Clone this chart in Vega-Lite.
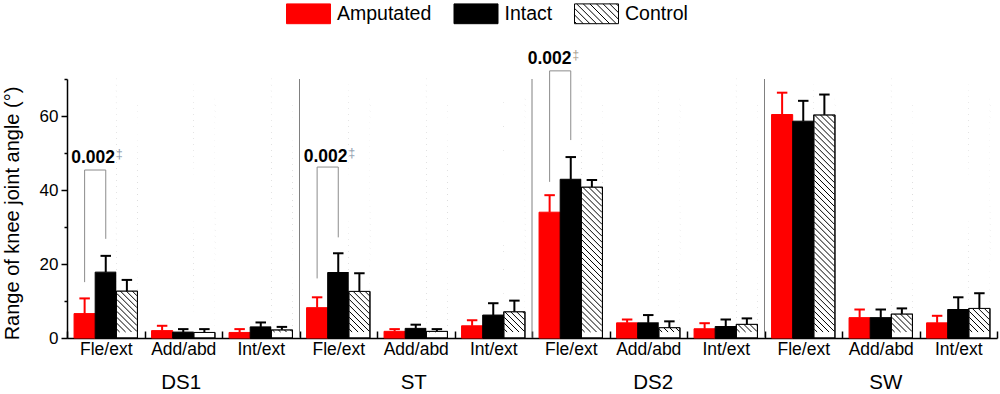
{
  "$schema": "https://vega.github.io/schema/vega-lite/v6.json",
  "width": 930,
  "height": 259,
  "autosize": {"type": "none"},
  "padding": {"left": 67, "top": 79, "right": 3, "bottom": 56},
  "config": {
    "view": {"stroke": null},
    "font": "Liberation Sans",
    "axis": {"labelFont": "Liberation Sans", "titleFont": "Liberation Sans", "grid": false},
    "legend": {"labelFont": "Liberation Sans"}
  },
  "datasets": {
    "bars": [
      {"cat": "DS1|Fle/ext", "series": "Amputated", "value": 6.6, "hi": 10.7},
      {"cat": "DS1|Fle/ext", "series": "Intact", "value": 17.8, "hi": 22.2},
      {"cat": "DS1|Fle/ext", "series": "Control", "value": 12.7, "hi": 15.7},
      {"cat": "DS1|Add/abd", "series": "Amputated", "value": 2.0, "hi": 3.3},
      {"cat": "DS1|Add/abd", "series": "Intact", "value": 1.6, "hi": 2.4},
      {"cat": "DS1|Add/abd", "series": "Control", "value": 1.5, "hi": 2.4},
      {"cat": "DS1|Int/ext", "series": "Amputated", "value": 1.5, "hi": 2.4},
      {"cat": "DS1|Int/ext", "series": "Intact", "value": 3.0, "hi": 4.2},
      {"cat": "DS1|Int/ext", "series": "Control", "value": 2.2, "hi": 3.0},
      {"cat": "ST|Fle/ext", "series": "Amputated", "value": 8.2, "hi": 11.0},
      {"cat": "ST|Fle/ext", "series": "Intact", "value": 17.7, "hi": 22.9},
      {"cat": "ST|Fle/ext", "series": "Control", "value": 12.6, "hi": 17.5},
      {"cat": "ST|Add/abd", "series": "Amputated", "value": 1.8, "hi": 2.4},
      {"cat": "ST|Add/abd", "series": "Intact", "value": 2.6, "hi": 3.6},
      {"cat": "ST|Add/abd", "series": "Control", "value": 1.8, "hi": 2.4},
      {"cat": "ST|Int/ext", "series": "Amputated", "value": 3.3, "hi": 4.8},
      {"cat": "ST|Int/ext", "series": "Intact", "value": 6.2, "hi": 9.4},
      {"cat": "ST|Int/ext", "series": "Control", "value": 7.1, "hi": 10.1},
      {"cat": "DS2|Fle/ext", "series": "Amputated", "value": 34.0, "hi": 38.6},
      {"cat": "DS2|Fle/ext", "series": "Intact", "value": 42.9, "hi": 48.9},
      {"cat": "DS2|Fle/ext", "series": "Control", "value": 40.8, "hi": 42.7},
      {"cat": "DS2|Add/abd", "series": "Amputated", "value": 4.1, "hi": 5.0},
      {"cat": "DS2|Add/abd", "series": "Intact", "value": 4.1, "hi": 6.2},
      {"cat": "DS2|Add/abd", "series": "Control", "value": 2.8, "hi": 4.5},
      {"cat": "DS2|Int/ext", "series": "Amputated", "value": 2.5, "hi": 4.0},
      {"cat": "DS2|Int/ext", "series": "Intact", "value": 3.1, "hi": 5.0},
      {"cat": "DS2|Int/ext", "series": "Control", "value": 3.7, "hi": 5.3},
      {"cat": "SW|Fle/ext", "series": "Amputated", "value": 60.4, "hi": 66.3},
      {"cat": "SW|Fle/ext", "series": "Intact", "value": 58.6, "hi": 64.1},
      {"cat": "SW|Fle/ext", "series": "Control", "value": 60.3, "hi": 65.8},
      {"cat": "SW|Add/abd", "series": "Amputated", "value": 5.5, "hi": 7.7},
      {"cat": "SW|Add/abd", "series": "Intact", "value": 5.5, "hi": 7.7},
      {"cat": "SW|Add/abd", "series": "Control", "value": 6.5, "hi": 8.0},
      {"cat": "SW|Int/ext", "series": "Amputated", "value": 4.1, "hi": 6.0},
      {"cat": "SW|Int/ext", "series": "Intact", "value": 7.7, "hi": 11.0},
      {"cat": "SW|Int/ext", "series": "Control", "value": 8.0, "hi": 12.1}
    ],
    "brackets": [
      {"id": "DS1", "cat": "DS1|Fle/ext", "series": "Amputated", "y": 15.1, "o": 1},
      {"id": "DS1", "cat": "DS1|Fle/ext", "series": "Amputated", "y": 45.4, "o": 2},
      {"id": "DS1", "cat": "DS1|Fle/ext", "series": "Intact", "y": 45.4, "o": 3},
      {"id": "DS1", "cat": "DS1|Fle/ext", "series": "Intact", "y": 26.8, "o": 4},
      {"id": "ST", "cat": "ST|Fle/ext", "series": "Amputated", "y": 16.1, "o": 1},
      {"id": "ST", "cat": "ST|Fle/ext", "series": "Amputated", "y": 46.2, "o": 2},
      {"id": "ST", "cat": "ST|Fle/ext", "series": "Intact", "y": 46.2, "o": 3},
      {"id": "ST", "cat": "ST|Fle/ext", "series": "Intact", "y": 27.2, "o": 4},
      {"id": "DS2", "cat": "DS2|Fle/ext", "series": "Amputated", "y": 42.2, "o": 1},
      {"id": "DS2", "cat": "DS2|Fle/ext", "series": "Amputated", "y": 72.2, "o": 2},
      {"id": "DS2", "cat": "DS2|Fle/ext", "series": "Intact", "y": 72.2, "o": 3},
      {"id": "DS2", "cat": "DS2|Fle/ext", "series": "Intact", "y": 53.5, "o": 4}
    ],
    "annot": [
      {"cat": "DS1|Fle/ext", "series": "Amputated", "y": 48.6, "p": "0.002", "s": "‡"},
      {"cat": "ST|Fle/ext", "series": "Amputated", "y": 48.8, "p": "0.002", "s": "‡"},
      {"cat": "DS2|Fle/ext", "series": "Amputated", "y": 75.4, "p": "0.002", "s": "‡"}
    ],
    "seps": [
      {"cat": "ST|Fle/ext"},
      {"cat": "DS2|Fle/ext"},
      {"cat": "SW|Fle/ext"}
    ],
    "groups": [
      {"cat": "DS1|Add/abd", "group": "DS1"},
      {"cat": "ST|Add/abd", "group": "ST"},
      {"cat": "DS2|Add/abd", "group": "DS2"},
      {"cat": "SW|Add/abd", "group": "SW"}
    ]
  },
  "resolve": {"axis": {"y": "independent"}},
  "layer": [
    {
      "data": {"name": "bars"},
      "mark": {"type": "bar", "strokeWidth": 1},
      "encoding": {
        "x": {"field": "cat", "type": "nominal", "sort": null,
          "scale": {"domain": ["DS1|Fle/ext","DS1|Add/abd","DS1|Int/ext","ST|Fle/ext","ST|Add/abd","ST|Int/ext","DS2|Fle/ext","DS2|Add/abd","DS2|Int/ext","SW|Fle/ext","SW|Add/abd","SW|Int/ext"], "paddingInner": 0, "paddingOuter": 0},
          "axis": {"title": null, "labelExpr": "split(datum.label, '|')[1]", "labelAngle": 0, "labelFontSize": 17.5, "labelColor": "#000000", "labelPadding": 9, "tickBand": "extent", "tickSize": -7, "tickWidth": 1.5, "tickColor": "#000000", "domainColor": "#000000", "domainWidth": 1.5, "labelOverlap": false}},
        "xOffset": {"field": "series", "type": "nominal", "scale": {"domain": ["Amputated", "Intact", "Control"], "paddingInner": 0, "paddingOuter": 0.334}},
        "y": {"field": "value", "type": "quantitative", "scale": {"domain": [0, 70], "nice": false},
          "axis": {"title": "Range of knee joint angle (°)", "values": [0, 20, 40, 60], "tickSize": 6, "tickWidth": 1.5, "tickColor": "#000000", "domainColor": "#000000", "domainWidth": 1.5, "labelFontSize": 17, "labelColor": "#000000", "labelPadding": 3, "titleFontSize": 20, "titleFontWeight": "normal", "titleColor": "#000000", "titlePadding": 17, "titleY": 134, "orient": "left"}},
        "fill": {"field": "series", "type": "nominal",
          "scale": {"domain": ["Amputated", "Intact", "Control"], "range": ["#ff0000", "#000000", "#ffffff"]},
          "legend": {"title": null, "orient": "none", "legendX": 219, "legendY": -88, "direction": "horizontal", "symbolSize": 1936, "symbolStrokeWidth": 1, "labelFontSize": 19.5, "labelColor": "#000000", "labelOffset": 6, "columnPadding": 19.5, "padding": 0}},
        "stroke": {"field": "series", "type": "nominal",
          "scale": {"domain": ["Amputated", "Intact", "Control"], "range": ["#ff0000", "#000000", "#000000"]},
          "legend": {"title": null, "orient": "none", "legendX": 219, "legendY": -88, "direction": "horizontal", "symbolSize": 1936, "symbolStrokeWidth": 1, "labelFontSize": 19.5, "labelColor": "#000000", "labelOffset": 6, "columnPadding": 19.5, "padding": 0}}
      }
    },
    {
      "data": {"name": "bars"},
      "transform": [{"filter": "datum.value < 0"}],
      "mark": {"type": "point", "opacity": 1, "filled": true},
      "encoding": {
        "x": {"field": "cat", "type": "nominal", "sort": null},
        "y": {"field": "value", "type": "quantitative", "axis": null},
        "shape": {"field": "series", "type": "nominal",
          "scale": {"domain": ["Amputated", "Intact", "Control"], "range": ["M-1,-0.45H1V0.45H-1Z", "M-1,-0.45H1V0.45H-1Z", "M-1,-0.45H1V0.45H-1ZM0.9,-0.45L1,-0.35M0.6,-0.45L1,-0.05M0.3,-0.45L1,0.25M0,-0.45L0.9,0.45M-0.3,-0.45L0.6,0.45M-0.6,-0.45L0.3,0.45M-0.9,-0.45L0,0.45M-1,-0.25L-0.3,0.45M-1,0.05L-0.6,0.45M-1,0.35L-0.9,0.45"]},
          "legend": {"title": null, "orient": "none", "legendX": 219, "legendY": -88, "direction": "horizontal", "symbolSize": 1936, "symbolStrokeWidth": 1, "labelFontSize": 19.5, "labelColor": "#000000", "labelOffset": 6, "columnPadding": 19.5, "padding": 0}}
      }
    },
    {
      "data": {"name": "bars"},
      "transform": [{"filter": "datum.series === 'Control'"}],
      "mark": {"type": "point", "shape": "M-0.078,-1l0.156,0.156m-0.156,-0.11l0.156,0.156m-0.156,-0.11l0.156,0.156m-0.156,-0.11l0.156,0.156m-0.156,-0.11l0.156,0.156m-0.156,-0.11l0.156,0.156m-0.156,-0.11l0.156,0.156m-0.156,-0.11l0.156,0.156m-0.156,-0.11l0.156,0.156m-0.156,-0.11l0.156,0.156m-0.156,-0.11l0.156,0.156m-0.156,-0.11l0.156,0.156m-0.156,-0.11l0.156,0.156m-0.156,-0.11l0.156,0.156m-0.156,-0.11l0.156,0.156m-0.156,-0.11l0.156,0.156m-0.156,-0.11l0.156,0.156m-0.156,-0.11l0.156,0.156m-0.156,-0.11l0.156,0.156m-0.156,-0.11l0.156,0.156m-0.156,-0.11l0.156,0.156m-0.156,-0.11l0.156,0.156m-0.156,-0.11l0.156,0.156m-0.156,-0.11l0.156,0.156m-0.156,-0.11l0.156,0.156m-0.156,-0.11l0.156,0.156m-0.156,-0.11l0.156,0.156m-0.156,-0.11l0.156,0.156m-0.156,-0.11l0.156,0.156m-0.156,-0.11l0.156,0.156m-0.156,-0.11l0.156,0.156m-0.156,-0.11l0.156,0.156m-0.156,-0.11l0.156,0.156m-0.156,-0.11l0.156,0.156m-0.156,-0.11l0.156,0.156m-0.156,-0.11l0.156,0.156m-0.156,-0.11l0.156,0.156m-0.156,-0.11l0.156,0.156m-0.156,-0.11l0.156,0.156m-0.156,-0.11l0.156,0.156m-0.156,-0.11l0.114,0.114m-0.114,-0.068l0.068,0.068m-0.068,-0.022l0.022,0.022", "size": 67081, "filled": false, "stroke": "#000000", "strokeWidth": 1, "opacity": 1},
      "encoding": {
        "x": {"field": "cat", "type": "nominal", "sort": null},
        "xOffset": {"field": "series", "type": "nominal"},
        "y": {"datum": 35, "type": "quantitative", "axis": null}
      }
    },
    {
      "data": {"name": "bars"},
      "transform": [{"filter": "datum.series === 'Control'"}],
      "mark": {"type": "bar", "fill": "#ffffff", "strokeOpacity": 0},
      "encoding": {
        "x": {"field": "cat", "type": "nominal", "sort": null},
        "xOffset": {"field": "series", "type": "nominal"},
        "y": {"field": "value", "type": "quantitative", "axis": null},
        "y2": {"datum": 70.3}
      }
    },
    {
      "data": {"name": "bars"},
      "transform": [{"filter": "datum.series === 'Control'"}],
      "mark": {"type": "bar", "fillOpacity": 0, "stroke": "#000000", "strokeWidth": 1},
      "encoding": {
        "x": {"field": "cat", "type": "nominal", "sort": null},
        "xOffset": {"field": "series", "type": "nominal"},
        "y": {"field": "value", "type": "quantitative", "axis": null}
      }
    },
    {
      "data": {"name": "bars"},
      "mark": {"type": "rule", "strokeWidth": 2},
      "encoding": {
        "x": {"field": "cat", "type": "nominal", "sort": null},
        "xOffset": {"field": "series", "type": "nominal"},
        "y": {"field": "value", "type": "quantitative",
          "axis": {"orient": "left", "values": [10, 30, 50, 70], "labels": false, "tickSize": 3, "tickWidth": 1.5, "tickColor": "#000000", "domain": false, "title": null}},
        "y2": {"field": "hi"},
        "stroke": {"condition": {"test": "datum.series === 'Amputated'", "value": "#ff0000"}, "value": "#000000"}
      }
    },
    {
      "data": {"name": "bars"},
      "mark": {"type": "point", "shape": "stroke", "size": 110, "filled": false, "strokeWidth": 2, "opacity": 1},
      "encoding": {
        "x": {"field": "cat", "type": "nominal", "sort": null},
        "xOffset": {"field": "series", "type": "nominal"},
        "y": {"field": "hi", "type": "quantitative", "axis": null},
        "stroke": {"condition": {"test": "datum.series === 'Amputated'", "value": "#ff0000"}, "value": "#000000"}
      }
    },
    {
      "data": {"name": "brackets"},
      "mark": {"type": "line", "stroke": "#8c8c8c", "strokeWidth": 1},
      "encoding": {
        "x": {"field": "cat", "type": "nominal", "sort": null},
        "xOffset": {"field": "series", "type": "nominal"},
        "y": {"field": "y", "type": "quantitative", "axis": null},
        "detail": {"field": "id"},
        "order": {"field": "o", "type": "quantitative"}
      }
    },
    {
      "data": {"name": "seps"},
      "mark": {"type": "rule", "stroke": "#808080", "strokeWidth": 1},
      "encoding": {
        "x": {"field": "cat", "type": "nominal", "sort": null, "bandPosition": 0},
        "y": {"datum": 0, "type": "quantitative", "axis": null},
        "y2": {"datum": 70}
      }
    },
    {
      "data": {"name": "annot"},
      "transform": [{"filter": "datum.cat !== 'DS2|Fle/ext'"}],
      "mark": {"type": "text", "fontSize": 17.5, "fontWeight": "bold", "color": "#000000", "align": "center", "baseline": "middle", "dx": 8.5},
      "encoding": {
        "x": {"field": "cat", "type": "nominal", "sort": null},
        "xOffset": {"field": "series", "type": "nominal"},
        "y": {"field": "y", "type": "quantitative", "axis": null},
        "text": {"field": "p"}
      }
    },
    {
      "data": {"name": "annot"},
      "transform": [{"filter": "datum.cat === 'DS2|Fle/ext'"}],
      "mark": {"type": "text", "fontSize": 17.5, "fontWeight": "bold", "color": "#000000", "align": "center", "baseline": "middle", "dx": 0},
      "encoding": {
        "x": {"field": "cat", "type": "nominal", "sort": null},
        "xOffset": {"field": "series", "type": "nominal"},
        "y": {"field": "y", "type": "quantitative", "axis": null},
        "text": {"field": "p"}
      }
    },
    {
      "data": {"name": "annot"},
      "transform": [{"filter": "datum.cat !== 'DS2|Fle/ext'"}],
      "mark": {"type": "text", "fontSize": 12, "color": "#8a98aa", "align": "left", "baseline": "middle", "dx": 31.5, "dy": -4},
      "encoding": {
        "x": {"field": "cat", "type": "nominal", "sort": null},
        "xOffset": {"field": "series", "type": "nominal"},
        "y": {"field": "y", "type": "quantitative", "axis": null},
        "text": {"field": "s"}
      }
    },
    {
      "data": {"name": "annot"},
      "transform": [{"filter": "datum.cat === 'DS2|Fle/ext'"}],
      "mark": {"type": "text", "fontSize": 12, "color": "#a89c8c", "align": "left", "baseline": "middle", "dx": 23, "dy": -4},
      "encoding": {
        "x": {"field": "cat", "type": "nominal", "sort": null},
        "xOffset": {"field": "series", "type": "nominal"},
        "y": {"field": "y", "type": "quantitative", "axis": null},
        "text": {"field": "s"}
      }
    },
    {
      "data": {"name": "groups"},
      "transform": [{"filter": "datum.group === 'DS1' || datum.group === 'ST'"}],
      "mark": {"type": "text", "fontSize": 20.5, "color": "#000000", "align": "center", "baseline": "alphabetic", "dy": 51, "dx": -2},
      "encoding": {
        "x": {"field": "cat", "type": "nominal", "sort": null},
        "y": {"datum": 0, "type": "quantitative", "axis": null},
        "text": {"field": "group"}
      }
    },
    {
      "data": {"name": "groups"},
      "transform": [{"filter": "datum.group === 'DS2' || datum.group === 'SW'"}],
      "mark": {"type": "text", "fontSize": 20.5, "color": "#000000", "align": "center", "baseline": "alphabetic", "dy": 51, "dx": 5},
      "encoding": {
        "x": {"field": "cat", "type": "nominal", "sort": null},
        "y": {"datum": 0, "type": "quantitative", "axis": null},
        "text": {"field": "group"}
      }
    }
  ]
}
